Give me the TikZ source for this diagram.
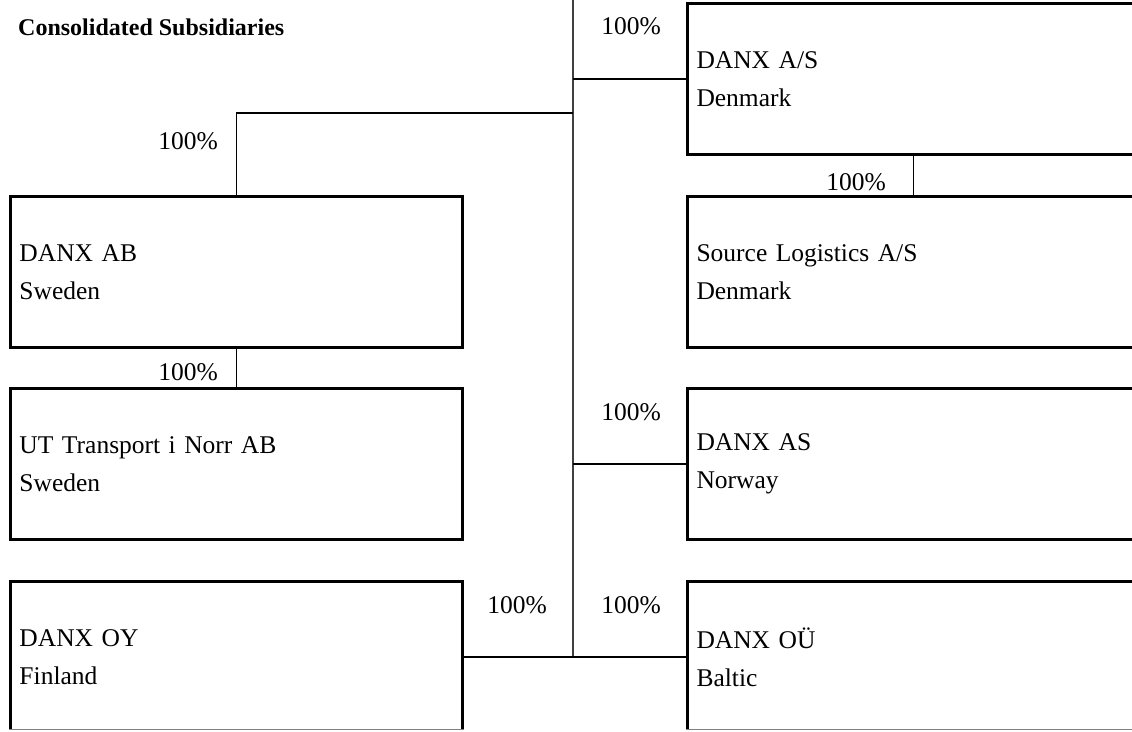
\documentclass[tikz,border=0pt]{standalone}
\usepackage{fontspec}
\setmainfont{Liberation Serif}
\usetikzlibrary{positioning}

\begin{document}
\begin{tikzpicture}[x = 1pt, y = -1pt,
  company/.style = {draw, line width = 3pt, anchor = north west, minimum width = 452, minimum height = 151, text width = 434, inner xsep = 9, align = left, font = \fontsize{25.5}{38}\selectfont},
  link/.style = {line width = 1.6pt},
  trunk/.style = {line width = 1.2pt, draw = black!75},
  share/.style = {anchor = base, inner sep = 0, font = \fontsize{25.5}{30}\selectfont}]
\def\full{100\%}

\useasboundingbox (0, 0) rectangle (1132, 731);

\begin{scope}
\clip (0, 0) rectangle (1132, 728.5);

\node[company] (as) at (686, 2) {DANX A/S\\Denmark};
\node[company] (sl) at (686, 195) {Source Logistics A/S\\Denmark};
\node[company] (nas) at (686, 387) {DANX AS\\Norway};
\node[company] (ou) at (686, 580) {DANX OÜ\\Baltic};

\node[company] (ab) at (9, 195) {DANX AB\\Sweden};
\node[company] (ut) at (9, 387) {UT Transport i Norr AB\\Sweden};
\node[company] (oy) at (9, 580) {DANX OY\\Finland};

\coordinate (top) at (573, 0);
\coordinate (fork) at (573, 113);

\draw[trunk] (top) -- (top |- ou.west);
\draw[link] (top |- as.west) -- (as.west);
\draw[link] (ab.north) |- (fork);
\draw[link] (as.south) -- (sl.north);
\draw[link] (ab.south) -- (ut.north);
\draw[link] (top |- nas.west) -- (nas.west);
\draw[link] (oy.east) -- (ou.west);
\end{scope}

\coordinate (base) at (0, 729.5);
\draw[gray, line width = 1pt] (oy.south west |- base) -- (oy.south east |- base);
\draw[gray, line width = 1pt] (ou.south west |- base) -- (ou.south east |- base);

\node[anchor = base west, inner sep = 0, font = \fontsize{24}{28}\selectfont\bfseries] (title) at (18, 35) {Consolidated Subsidiaries};

\node[share] (p-as) at (631, 34) {\full};
\node[share] (p-ab) at (188, 149) {\full};
\node[share] (p-sl) at (856, 190) {\full};
\node[share] (p-ut) at (188, 380) {\full};
\node[share] (p-nas) at (631, 420) {\full};
\node[share] (p-oy) at (517, 613) {\full};
\node[share] (p-ou) at (631, 613) {\full};
\end{tikzpicture}
\end{document}
